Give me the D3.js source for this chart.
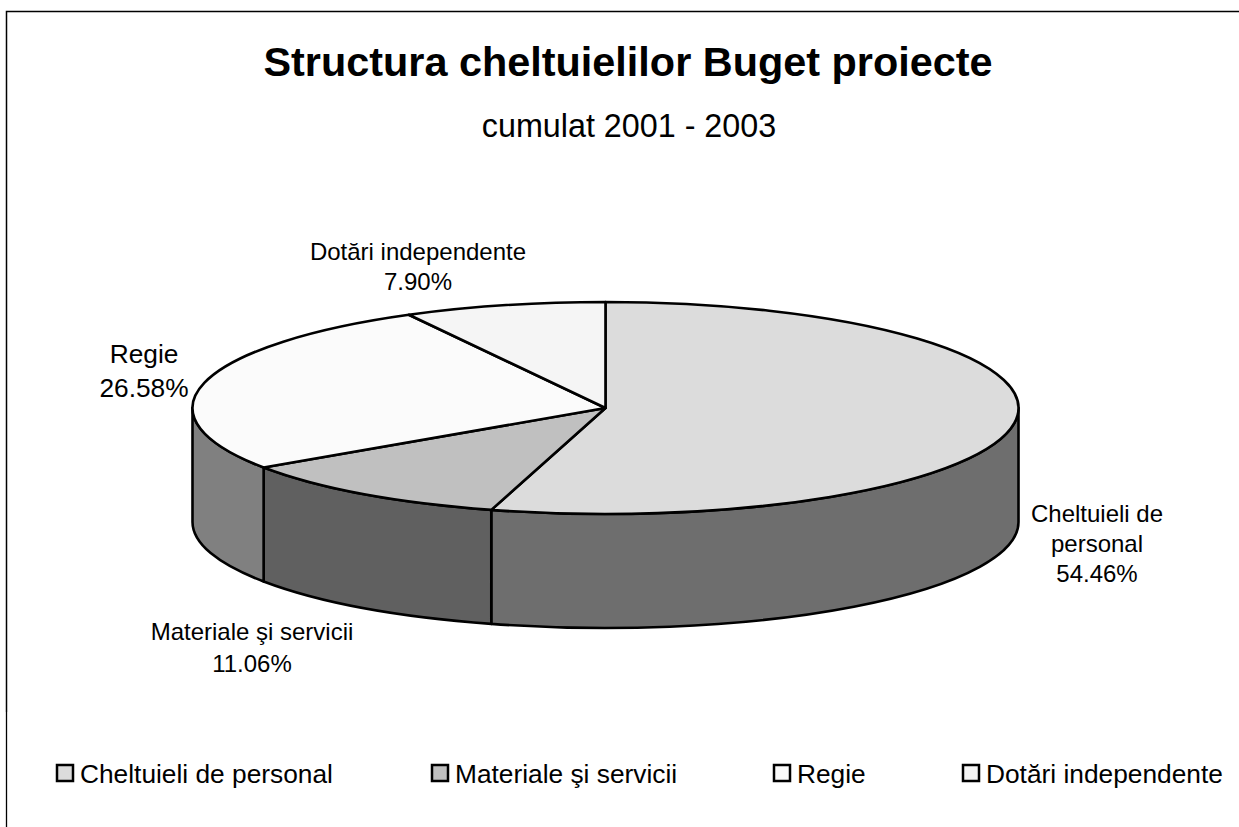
<!DOCTYPE html>
<html><head><meta charset="utf-8">
<script src="https://cdn.jsdelivr.net/npm/d3@7/dist/d3.min.js"></script>
<style>html,body{margin:0;padding:0;background:#fff}svg{display:block}text{font-family:"Liberation Sans",Arial,sans-serif;fill:#000}</style>
</head><body><svg id="c" width="1239" height="827"></svg>
<script>
const categories=["Cheltuieli de personal","Materiale şi servicii","Regie","Dotări independente"];
const values=[54.46,11.06,26.58,7.90];
const topColors=["#dcdcdc","#c0c0c0","#fbfbfb","#f5f5f5"];
const sideColors=["#6e6e6e","#606060","#808080","#808080"];
const titleText="Structura cheltuielilor Buget proiecte";
const subtitleText="cumulat 2001 - 2003";
const labelLines=[["Cheltuieli de","personal","54.46%"],["Materiale şi servicii","11.06%"],["Regie","26.58%"],["Dotări independente","7.90%"]];
const labelAnchors=[[1097,522],[252,640],[144,363],[418,260]];
const labelSizes=[24,24,26.3,24];
const labelLeading=[30,32,34,30];
const legendX=[57,432,774,963];

const W=1239,H=827,cx=605.5,cy=408,rx=413,ry=106,depth=114;
const svg=d3.select("#c");
svg.append("rect").attr("width",W).attr("height",H).attr("fill","#fff");
svg.append("path").attr("d",`M6.5,712 V11.5 H${W}`).attr("fill","none").attr("stroke","#000").attr("stroke-width",1.5);
svg.append("path").attr("d",`M6.5,712 V${H}`).attr("fill","none").attr("stroke","#000").attr("stroke-width",1.3);

svg.append("text").attr("x",628).attr("y",75.5).attr("text-anchor","middle").attr("font-size",41.4).attr("font-weight","bold").text(titleText);
svg.append("text").attr("x",629).attr("y",137).attr("text-anchor","middle").attr("font-size",32.3).text(subtitleText);

const arcs=d3.pie().sort(null).value(d=>d)(values);
const px=a=>cx+rx*Math.sin(a), py=a=>cy-ry*Math.cos(a);
const PI=Math.PI;

const sides=arcs.map((d,i)=>{
  const a0=Math.max(d.startAngle,PI/2), a1=Math.min(d.endAngle,3*PI/2);
  return a1>a0?{a0,a1,i}:null;}).filter(Boolean);
svg.append("g").selectAll("path").data(sides).join("path")
 .attr("d",s=>`M${px(s.a0)},${py(s.a0)} A${rx},${ry} 0 0 1 ${px(s.a1)},${py(s.a1)} L${px(s.a1)},${py(s.a1)+depth} A${rx},${ry} 0 0 0 ${px(s.a0)},${py(s.a0)+depth} Z`)
 .attr("fill",s=>sideColors[s.i]).attr("stroke","#000").attr("stroke-width",2.6).attr("stroke-linejoin","round");

const arcGen=d3.arc().innerRadius(0).outerRadius(rx);
svg.append("g").attr("transform",`translate(${cx},${cy}) scale(1,${ry/rx})`)
 .selectAll("path").data(arcs).join("path")
 .attr("d",arcGen).attr("fill",(d,i)=>topColors[i]).attr("stroke","#000").attr("stroke-width",2.6)
 .attr("stroke-linejoin","round").style("vector-effect","non-scaling-stroke");

const lblG=svg.append("g").attr("text-anchor","middle");
labelLines.forEach((lines,i)=>{
  lines.forEach((t,j)=>lblG.append("text").attr("x",labelAnchors[i][0]).attr("y",labelAnchors[i][1]+j*labelLeading[i]).attr("font-size",labelSizes[i]).text(t));
});

const lg=svg.append("g").selectAll("g").data(categories).join("g").attr("transform",(d,i)=>`translate(${legendX[i]},781)`);
lg.append("rect").attr("x",0).attr("y",-16).attr("width",16).attr("height",16).attr("fill",(d,i)=>topColors[i]).attr("stroke","#000").attr("stroke-width",2.5);
lg.append("text").attr("x",23).attr("y",1.5).attr("font-size",26.3).text(d=>d);
</script></body></html>
